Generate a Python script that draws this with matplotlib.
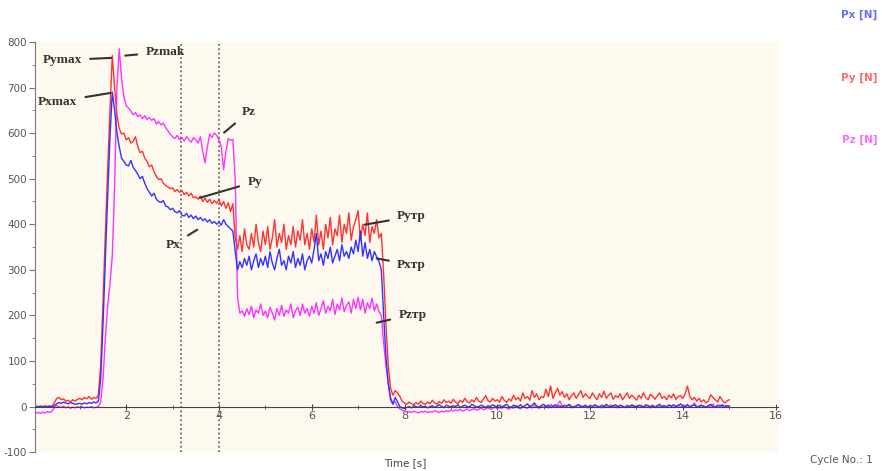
import numpy as np
import matplotlib
matplotlib.use("Agg")
import matplotlib.pyplot as plt
from matplotlib.ticker import MultipleLocator

plt.rcParams["axes.unicode_minus"] = False

# sampling grid of the recording (s)
time_s = np.linspace(0, 15, 301)

# Px [N], one row per second
px_rows = [
    [0, -1, 0, 1, 0, -1, 0, 1, 0, 2, 6, 9, 7, 10, 8, 6, 9, 7, 5, 6],
    [7, 5, 8, 6, 9, 7, 10, 8, 12, 60, 180, 320, 460, 590, 690, 650, 600, 570, 545, 538],
    [530, 528, 540, 525, 518, 510, 500, 505, 490, 478, 470, 462, 468, 455, 450, 448, 452, 440, 438, 432],
    [435, 428, 425, 430, 420, 418, 424, 415, 420, 412, 418, 410, 415, 408, 412, 405, 410, 402, 406, 400],
    [405, 398, 410, 400, 395, 390, 385, 340, 300, 318, 305, 325, 310, 330, 300, 320, 335, 305, 325, 310],
    [330, 305, 340, 315, 300, 325, 345, 310, 320, 300, 330, 315, 340, 305, 325, 310, 335, 300, 320, 330],
    [315, 345, 380, 320, 335, 310, 340, 325, 350, 315, 330, 345, 320, 355, 330, 340, 325, 350, 335, 365],
    [340, 385, 330, 360, 325, 345, 320, 340, 328, 318, 300, 200, 110, 50, 15, 5, 20, 10, 0, -3],
    [-4, -2, 0, -3, 2, 0, -2, 3, -1, 1, -3, 0, 2, -2, 1, 4, 0, -2, 3, 1],
    [-1, 2, 0, 4, -2, 1, 3, 0, -1, 5, 2, -1, 0, 3, 1, -2, 2, 0, 4, 1],
    [0, 3, -1, 2, 5, 0, -2, 3, 1, 0, 4, -1, 2, 6, 0, 3, 8, 1, -1, 2],
    [5, 0, 3, -2, 1, 4, 0, 2, -1, 3, 1, 5, 0, -2, 2, 4, 1, 0, 3, -1],
    [2, 0, 4, 1, -2, 3, 0, 5, 1, -1, 2, 4, 0, 3, 1, -2, 2, 0, 4, 1],
    [0, 3, 1, -1, 4, 2, 0, 3, -2, 1, 5, 0, 2, -1, 3, 1, 4, 0, 2, 6],
    [1, -1, 3, 0, 2, 4, -2, 1, 3, 0, -1, 2, 5, 0, -2, 3, 1, 4, 0, 2],
    [1],
]

# Py [N]
py_rows = [
    [0, 1, 0, -1, 0, 2, 0, 1, 0, 8, 18, 20, 15, 17, 12, 14, 10, 15, 12, 16],
    [18, 15, 20, 17, 22, 16, 20, 18, 25, 90, 230, 380, 520, 650, 770, 700, 640, 610, 598, 600],
    [585, 590, 578, 582, 592, 570, 557, 560, 545, 538, 526, 530, 515, 505, 498, 500, 490, 485, 482, 478],
    [480, 472, 476, 470, 474, 465, 470, 462, 468, 458, 460, 455, 462, 450, 457, 448, 455, 445, 452, 446],
    [454, 440, 450, 435, 447, 428, 445, 370, 345, 375, 340, 390, 355, 345, 380, 350, 400, 360, 340, 385],
    [355, 395, 345, 370, 410, 350, 380, 360, 400, 345, 375, 355, 395, 350, 385, 365, 410, 355, 380, 345],
    [390, 360, 420, 355, 385, 345, 400, 370, 415, 355, 390, 375, 420, 360, 400, 380, 425, 365, 395, 410],
    [430, 365, 400, 375, 425, 360, 395, 380, 410, 370, 380, 290, 180, 90, 40, 25, 35, 30, 22, 12],
    [8, 5, 10, 6, 4, 9, 5, 12, 7, 5, 10, 6, 14, 8, 5, 11, 7, 15, 9, 12],
    [7, 16, 10, 6, 14, 9, 18, 11, 8, 15, 10, 20, 12, 9, 16, 24, 13, 10, 18, 12],
    [15, 10, 22, 14, 9, 17, 12, 25, 15, 20, 12, 30, 18, 22, 14, 35, 20, 28, 15, 22],
    [20, 38, 22, 45, 18, 30, 40, 25, 33, 20, 28, 15, 24, 30, 18, 26, 35, 20, 28, 22],
    [18, 30, 22, 15, 28, 20, 34, 18, 25, 30, 16, 24, 20, 28, 15, 22, 30, 18, 25, 20],
    [14, 25, 18, 30, 20, 15, 27, 22, 16, 24, 30, 18, 22, 15, 25, 19, 28, 16, 22, 24],
    [18, 28, 45, 22, 15, 20, 12, 18, 10, 15, 8, 12, 26, 20, 15, 10, 22, 14, 8, 12],
    [15],
]

# Pz [N]
pz_rows = [
    [-12, -14, -13, -15, -12, -14, -11, -13, -10, -2, 2, 0, -2, 1, -3, 0, -4, -1, -3, 0],
    [-2, 0, -3, -1, -2, 0, -3, -1, 0, 10, 60, 150, 220, 270, 330, 480, 700, 785, 720, 680],
    [660, 655, 648, 640, 645, 636, 640, 632, 638, 630, 634, 628, 632, 620, 625, 618, 622, 612, 605, 598],
    [592, 588, 595, 585, 590, 583, 592, 586, 580, 590, 585, 578, 592, 560, 535, 570, 598, 590, 600, 595],
    [585, 570, 520, 560, 588, 584, 586, 500, 240, 205, 210, 198, 215, 202, 220, 195, 212, 205, 225, 200],
    [210, 195, 218, 205, 190, 215, 200, 222, 198, 212, 205, 225, 195, 210, 218, 200, 225, 205, 215, 198],
    [220, 205, 228, 200, 215, 232, 205, 220, 210, 235, 202, 225, 212, 238, 208, 222, 230, 205, 235, 215],
    [240, 212, 235, 205, 228, 215, 238, 210, 225, 208, 200, 140, 90, 50, 20, 8, 10, 0, -5, -8],
    [-10, -12, -11, -13, -10, -12, -14, -11, -12, -10, -13, -11, -12, -9, -11, -13, -10, -12, -9, -11],
    [-8, -10, -7, -9, -6, -10, -8, -5, -9, -7, -4, -8, -6, -3, -7, -5, -2, -6, -4, -1],
    [-5, -2, -4, 0, -3, -6, -1, -4, 2, -3, -5, 0, -2, -4, 1, -3, 3, -1, -4, 0],
    [-2, 2, -3, 5, 0, -1, 4, 12, 2, -2, 0, 3, -3, 1, -1, 4, -2, 0, 2, -3],
    [0, -2, 3, -1, 1, -3, 2, 0, -2, 4, -1, 1, -3, 2, 0, -2, 3, -1, 1, 0],
    [-2, 1, 3, -1, 0, 2, -3, 1, -1, 3, 0, -2, 2, -1, 4, 0, -2, 1, 3, -1],
    [0, 2, 5, -1, 1, 8, 0, -2, 3, 1, -1, 2, 0, 6, -2, 1, 3, 0, -1, 2],
    [0],
]

px = np.concatenate(px_rows)
py = np.concatenate(py_rows)
pz = np.concatenate(pz_rows)

# cursor positions (s)
cursors = [3.18, 3.99]

# labels: text, point on curve, text position
labels = ["Pymax", "Pzmak", "Pxmax", "Pz", "Py", "Px", "Pyтр", "Pxтр", "Pzтр"]
label_xy = [(1.68, 765), (1.98, 770), (1.66, 688), (4.11, 601), (3.59, 458),
            (3.53, 388), (7.14, 399), (7.40, 325), (7.40, 184)]
label_text_xy = [(0.62, 760), (2.84, 778), (0.52, 669), (4.65, 647), (4.77, 493),
                 (3.01, 355), (8.15, 417), (8.15, 311), (8.17, 202)]

fig = plt.figure(figsize=(8.82, 4.71), dpi=100)
ax = fig.add_axes([0.040, 0.040, 0.842, 0.871])
ax.set_facecolor("#fdf9ef")

ax.plot(time_s, pz, color="#ff33ff", lw=1)
ax.plot(time_s, py, color="#ff3333", lw=1)
ax.plot(time_s, px, color="#3333ff", lw=1)

for c in cursors:
    ax.axvline(c, color="#555555", ls=":", lw=1.2)

for lab, xy, txy in zip(labels, label_xy, label_text_xy):
    ax.annotate(lab, xy=xy, xytext=txy, ha="center", va="center",
                fontsize=9.5, fontweight="bold", family="Liberation Serif",
                color="#333333",
                arrowprops=dict(arrowstyle="-", color="#333333", lw=1.5,
                                shrinkA=4, shrinkB=0))

ax.set_xlim(0.04, 16.05)
ax.set_ylim(-100, 800)
ax.xaxis.set_major_locator(MultipleLocator(2))
ax.xaxis.set_minor_locator(MultipleLocator(1))
ax.yaxis.set_major_locator(MultipleLocator(100))
ax.yaxis.set_minor_locator(MultipleLocator(50))
ax.set_xticks([2, 4, 6, 8, 10, 12, 14, 16])

ax.spines["top"].set_visible(False)
ax.spines["right"].set_visible(False)
ax.spines["bottom"].set_position(("data", 0))
ax.spines["bottom"].set_color("#444444")
ax.spines["left"].set_color("#777777")
ax.tick_params(axis="x", which="both", direction="inout", colors="#444444",
               labelcolor="#555555", labelsize=8, length=5, pad=1)
ax.tick_params(axis="x", which="minor", length=3)
ax.tick_params(axis="y", which="both", direction="out", colors="#777777",
               labelcolor="#555555", labelsize=7.5, length=4, pad=2)
ax.tick_params(axis="y", which="minor", length=2)

fig.text(0.459, 0.017, "Time [s]", ha="center", va="center", fontsize=7.5, color="#444444")
fig.text(0.99, 0.023, "Cycle No.: 1", ha="right", va="center", fontsize=7.5, color="#555555")

legend_names = ["Px [N]", "Py [N]", "Pz [N]"]
legend_colors = ["#6b6bff", "#ff6b6b", "#ff6bff"]
legend_y = [0.968, 0.834, 0.703]
for name, col, yy in zip(legend_names, legend_colors, legend_y):
    fig.text(0.995, yy, name, ha="right", va="center", fontsize=7.5,
             color=col, fontweight="bold")

fig.savefig("out.png", dpi=100)
